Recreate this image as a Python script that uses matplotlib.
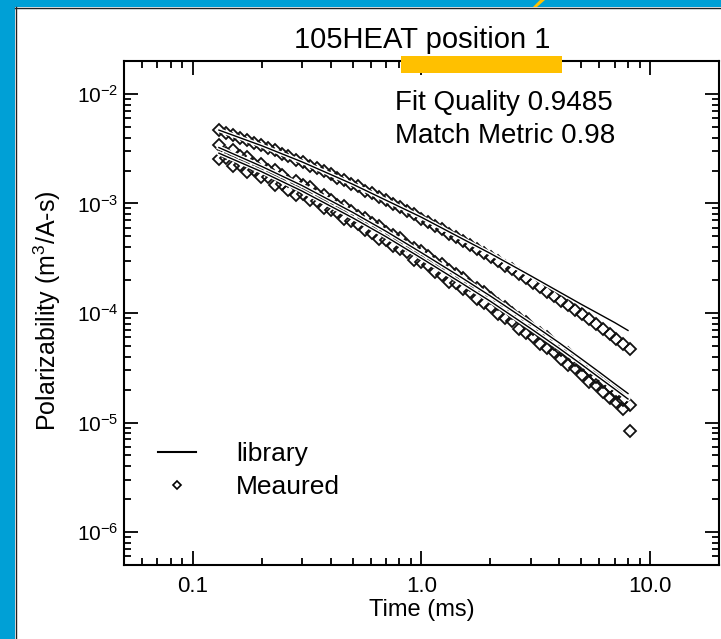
import matplotlib
matplotlib.use('Agg')
import matplotlib.pyplot as plt
import matplotlib.patheffects as pe
from matplotlib.patches import Rectangle, Polygon
from matplotlib.lines import Line2D
from matplotlib.ticker import FixedLocator, FixedFormatter, LogLocator, NullFormatter

plt.rcParams['font.family'] = ['Liberation Sans', 'DejaVu Sans']
plt.rcParams['mathtext.fontset'] = 'custom'
plt.rcParams['mathtext.rm'] = 'Liberation Sans'
plt.rcParams['mathtext.it'] = 'Liberation Sans:italic'
plt.rcParams['mathtext.bf'] = 'Liberation Sans:bold'

# measured time gates (ms)
time_ms = [0.130, 0.139, 0.150, 0.160, 0.172, 0.185, 0.198, 0.213, 0.228, 0.245,
           0.262, 0.282, 0.302, 0.324, 0.348, 0.373, 0.400, 0.429, 0.460, 0.494,
           0.530, 0.568, 0.610, 0.654, 0.702, 0.752, 0.807, 0.866, 0.929, 0.997,
           1.07, 1.15, 1.23, 1.32, 1.42, 1.52, 1.63, 1.75, 1.88, 2.01,
           2.16, 2.32, 2.48, 2.66, 2.86, 3.07, 3.29, 3.53, 3.78, 4.06,
           4.36, 4.67, 5.01, 5.38, 5.77, 6.19, 6.64, 7.12, 7.64, 8.19]

# measured polarizabilities (m^3/A-s)
meas_l1 = [4.68e-3, 4.40e-3, 4.25e-3, 3.97e-3, 3.82e-3, 3.56e-3, 3.42e-3, 3.18e-3, 3.05e-3, 2.83e-3,
           2.72e-3, 2.52e-3, 2.41e-3, 2.22e-3, 2.12e-3, 1.96e-3, 1.86e-3, 1.72e-3, 1.63e-3, 1.51e-3,
           1.43e-3, 1.31e-3, 1.24e-3, 1.14e-3, 1.08e-3, 9.85e-4, 9.28e-4, 8.48e-4, 7.98e-4, 7.28e-4,
           6.84e-4, 6.22e-4, 5.83e-4, 5.31e-4, 4.96e-4, 4.50e-4, 4.21e-4, 3.82e-4, 3.55e-4, 3.22e-4,
           2.99e-4, 2.70e-4, 2.50e-4, 2.26e-4, 2.09e-4, 1.88e-4, 1.74e-4, 1.57e-4, 1.44e-4, 1.29e-4,
           1.19e-4, 1.07e-4, 9.70e-5, 8.80e-5, 7.90e-5, 7.10e-5, 6.40e-5, 5.80e-5, 5.20e-5, 4.70e-5]
meas_l2 = [3.43e-3, 2.87e-3, 3.10e-3, 2.71e-3, 2.66e-3, 2.28e-3, 2.28e-3, 2.04e-3, 2.04e-3, 1.82e-3,
           1.61e-3, 1.61e-3, 1.46e-3, 1.42e-3, 1.23e-3, 1.19e-3, 1.08e-3, 9.77e-4, 9.44e-4, 8.53e-4,
           7.67e-4, 7.41e-4, 6.65e-4, 6.27e-4, 5.50e-4, 5.15e-4, 4.83e-4, 4.22e-4, 3.94e-4, 3.69e-4,
           3.29e-4, 2.93e-4, 2.79e-4, 2.48e-4, 2.25e-4, 2.09e-4, 1.81e-4, 1.68e-4, 1.56e-4, 1.37e-4,
           1.21e-4, 1.14e-4, 1.01e-4, 9.06e-5, 8.34e-5, 7.14e-5, 6.56e-5, 6.01e-5, 5.26e-5, 4.59e-5,
           4.30e-5, 3.75e-5, 3.34e-5, 3.04e-5, 2.59e-5, 2.35e-5, 2.13e-5, 1.85e-5, 1.60e-5, 1.45e-5]
meas_l3 = [2.54e-3, 2.62e-3, 2.19e-3, 2.25e-3, 1.93e-3, 2.03e-3, 1.73e-3, 1.73e-3, 1.48e-3, 1.51e-3,
           1.34e-3, 1.19e-3, 1.22e-3, 1.08e-3, 1.05e-3, 9.06e-4, 8.79e-4, 8.32e-4, 7.16e-4, 6.93e-4,
           6.53e-4, 5.75e-4, 5.41e-4, 4.75e-4, 4.68e-4, 4.09e-4, 3.84e-4, 3.59e-4, 3.06e-4, 2.93e-4,
           2.74e-4, 2.38e-4, 2.22e-4, 1.93e-4, 1.87e-4, 1.66e-4, 1.54e-4, 1.33e-4, 1.24e-4, 1.14e-4,
           9.84e-5, 9.08e-5, 8.38e-5, 7.19e-5, 6.62e-5, 6.08e-5, 5.21e-5, 4.78e-5, 4.38e-5, 3.82e-5,
           3.33e-5, 3.12e-5, 2.72e-5, 2.36e-5, 2.20e-5, 1.91e-5, 1.66e-5, 1.54e-5, 1.33e-5, 8.4e-6]

# library curves
lib_time = [0.13, 0.2, 0.3, 0.5, 0.7, 1.0, 1.5, 2.0, 3.0, 4.0, 5.0, 6.0, 7.0, 8.0]
lib_l1 = [4.68e-3, 3.37e-3, 2.40e-3, 1.50e-3, 1.07e-3, 7.48e-4, 4.79e-4, 3.50e-4, 2.19e-4, 1.56e-4,
          1.20e-4, 9.75e-5, 8.17e-5, 6.93e-5]
lib_l2 = [3.24e-3, 2.18e-3, 1.46e-3, 8.30e-4, 5.57e-4, 3.55e-4, 2.10e-4, 1.43e-4, 8.11e-5, 5.35e-5,
          3.81e-5, 2.88e-5, 2.26e-5, 1.84e-5]
lib_l3 = [2.88e-3, 1.95e-3, 1.30e-3, 7.40e-4, 4.97e-4, 3.16e-4, 1.87e-4, 1.28e-4, 7.23e-5, 4.76e-5,
          3.40e-5, 2.56e-5, 2.02e-5, 1.64e-5]

W, H = 721, 639
fig = plt.figure(figsize=(W / 100, H / 100), dpi=100)
fig.patch.set_facecolor('white')

# blue slide frame on the top and left, thin dark edge of the white panel
blue = '#00A0D6'
fig.add_artist(Rectangle((0, 1 - 7 / H), 1.0, 7 / H, facecolor=blue, edgecolor='none',
                         transform=fig.transFigure, zorder=-1))
fig.add_artist(Rectangle((0, 0), 15 / W, 1.0, facecolor=blue, edgecolor='none',
                         transform=fig.transFigure, zorder=-1))
fig.add_artist(Line2D([15 / W, 1.0], [1 - 7.5 / H, 1 - 7.5 / H], color='#222222', lw=1.0,
                      transform=fig.transFigure, zorder=-1))
fig.add_artist(Line2D([15.5 / W, 15.5 / W], [0, 1 - 7 / H], color='#222222', lw=1.0,
                      transform=fig.transFigure, zorder=-1))

ax = fig.add_axes([124 / W, 1 - 565 / H, 595 / W, 504 / H])

for meas in (meas_l1, meas_l2, meas_l3):
    ax.plot(time_ms, meas, ls='none', marker='D', ms=5.8, mfc='none', mec='#111111', mew=1.3, zorder=2)

for lib in (lib_l1, lib_l2, lib_l3):
    ax.plot(lib_time, lib, color='black', lw=1.0, zorder=3,
            path_effects=[pe.Stroke(linewidth=3, foreground='white'), pe.Normal()])

ax.set_xscale('log')
ax.set_yscale('log')
ax.set_xlim(0.05, 20)
ax.set_ylim(5e-7, 2e-2)

ax.xaxis.set_major_locator(FixedLocator([0.1, 1, 10]))
ax.xaxis.set_major_formatter(FixedFormatter(['0.1', '1.0', '10.0']))
ax.xaxis.set_minor_locator(LogLocator(base=10, subs=range(2, 10), numticks=20))
ax.xaxis.set_minor_formatter(NullFormatter())
ax.yaxis.set_major_locator(FixedLocator([1e-6, 1e-5, 1e-4, 1e-3, 1e-2]))
ax.yaxis.set_major_formatter(FixedFormatter([r'10$^{-6}$', r'10$^{-5}$', r'10$^{-4}$',
                                             r'10$^{-3}$', r'10$^{-2}$']))
ax.yaxis.set_minor_locator(LogLocator(base=10, subs=range(2, 10), numticks=20))
ax.yaxis.set_minor_formatter(NullFormatter())

ax.tick_params(which='both', direction='in', top=True, right=True, width=1.3)
ax.tick_params(which='major', length=10)
ax.tick_params(which='minor', length=5)
ax.tick_params(axis='x', labelsize=16, pad=8)
ax.tick_params(axis='y', labelsize=15, pad=4)
for sp in ax.spines.values():
    sp.set_linewidth(1.5)

ax.text(0.455, 0.903, 'Fit Quality 0.9485', transform=ax.transAxes, fontsize=20, va='baseline')
ax.text(0.455, 0.837, 'Match Metric 0.98', transform=ax.transAxes, fontsize=20, va='baseline')

handles = [Line2D([], [], color='black', lw=1.5),
           Line2D([], [], ls='none', marker='D', ms=4.5, mfc='none', mec='black', mew=1.2)]
ax.legend(handles, ['library', 'Meaured'], loc='upper left', bbox_to_anchor=(0.057, 0.244),
          frameon=False, fontsize=19, handlelength=1.46, handletextpad=1.5,
          labelspacing=0.35, borderpad=0, borderaxespad=0)

fig.text(422 / W, 1 - 48 / H, '105HEAT position 1', ha='center', va='baseline', fontsize=21)
fig.text(47 / W, 1 - 311 / H, 'Polarizability (m$^3$/A-s)', rotation=90,
         ha='center', va='center', fontsize=18)
fig.text(422 / W, 1 - 610 / H, 'Time (ms)', ha='center', va='center', fontsize=17)

# highlight bar and arrow tip from the slide
fig.add_artist(Rectangle((401 / W, 1 - 73 / H), 161 / W, 17 / H, facecolor='#FFC000',
                         edgecolor='none', transform=fig.transFigure, zorder=10))
fig.add_artist(Polygon([(533 / W, 1 - 7 / H), (537 / W, 1 - 7 / H), (545 / W, 1.0), (540 / W, 1.0)],
                       closed=True, facecolor='#FFC000', edgecolor='none',
                       transform=fig.transFigure, zorder=10))

fig.savefig('out.png', dpi=100, facecolor=fig.get_facecolor())
